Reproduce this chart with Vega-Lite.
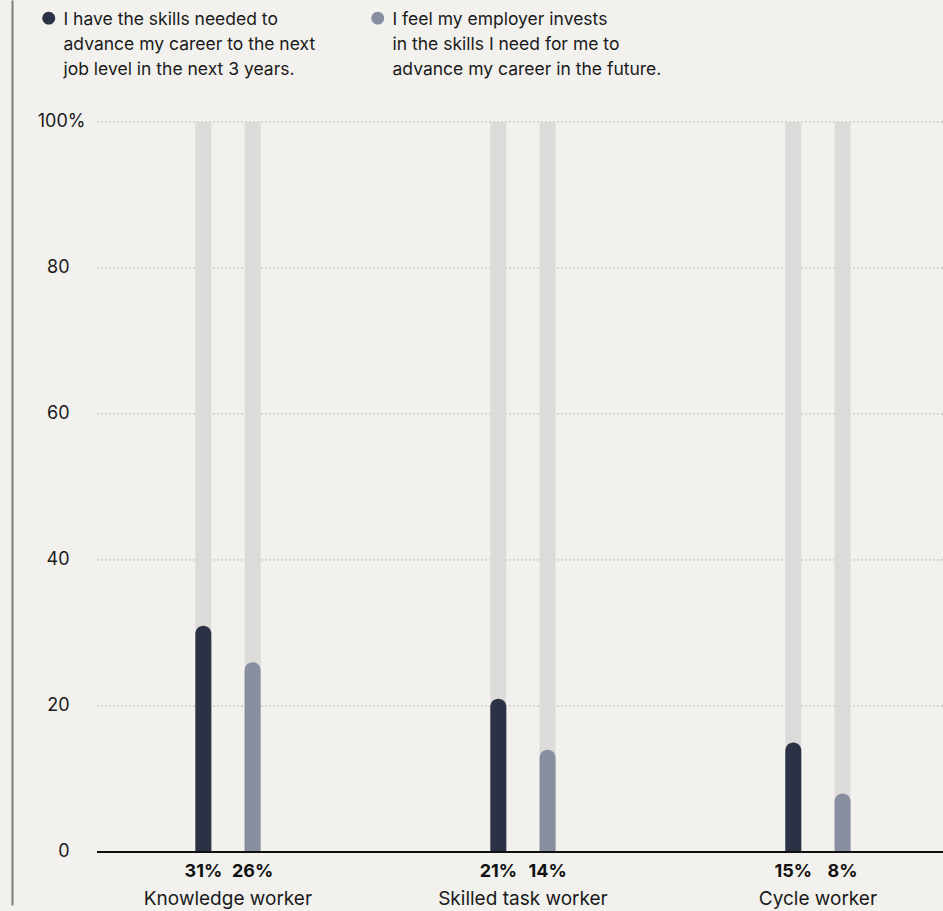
{
  "$schema": "https://vega.github.io/schema/vega-lite/v6.json",
  "width": 846,
  "height": 905,
  "autosize": {"type": "none"},
  "padding": {"left": 97, "top": 0, "right": 0, "bottom": 6},
  "background": "#f2f1ee",
  "config": {
    "view": {"stroke": null},
    "font": "Inter",
    "style": {"guide-label": {"lineHeight": 25}}
  },
  "datasets": {
    "bars": [
      {"group": "Knowledge worker", "series": "I have the skills needed to advance my career to the next job level in the next 3 years.", "value": 31, "label": "31%"},
      {"group": "Knowledge worker", "series": "I feel my employer invests in the skills I need for me to advance my career in the future.", "value": 26, "label": "26%"},
      {"group": "Skilled task worker", "series": "I have the skills needed to advance my career to the next job level in the next 3 years.", "value": 21, "label": "21%"},
      {"group": "Skilled task worker", "series": "I feel my employer invests in the skills I need for me to advance my career in the future.", "value": 14, "label": "14%"},
      {"group": "Cycle worker", "series": "I have the skills needed to advance my career to the next job level in the next 3 years.", "value": 15, "label": "15%"},
      {"group": "Cycle worker", "series": "I feel my employer invests in the skills I need for me to advance my career in the future.", "value": 8, "label": "8%"}
    ],
    "grid": [{"v": 20}, {"v": 40}, {"v": 60}, {"v": 80}, {"v": 100}]
  },
  "layer": [
    {
      "data": {"name": "grid"},
      "mark": {"type": "rule", "color": "#b8b8b8", "strokeWidth": 1, "strokeDash": [2, 2]},
      "encoding": {
        "y": {
          "field": "v",
          "type": "quantitative",
          "scale": {"domain": [-7.26, 116.7], "nice": false, "zero": false},
          "axis": {
            "orient": "left",
            "offset": 85,
            "title": null,
            "values": [0, 20, 40, 60, 80, 100],
            "grid": false,
            "ticks": false,
            "tickSize": 0,
            "domain": true,
            "domainColor": "#7d7d7d",
            "domainWidth": 2,
            "labelAlign": "right",
            "labelBaseline": "middle",
            "labelPadding": {"condition": {"test": "datum.value == 100", "value": -73}, "value": -57},
            "labelFontSize": 18,
            "labelColor": "#1a1a1a",
            "labelExpr": "datum.value == 100 ? '100%' : datum.label"
          }
        }
      }
    },
    {
      "data": {"name": "bars"},
      "mark": {"type": "bar", "width": 16, "color": "#dcdbd9"},
      "encoding": {
        "x": {
          "field": "group",
          "type": "nominal",
          "sort": ["Knowledge worker", "Skilled task worker", "Cycle worker"],
          "scale": {"paddingInner": 0.332, "paddingOuter": 0.1, "align": 0.55},
          "axis": {
            "orient": "bottom",
            "offset": -53,
            "title": null,
            "domain": false,
            "ticks": false,
            "tickSize": 0,
            "labelAngle": 0,
            "labelPadding": 37,
            "labelFontSize": 19,
            "labelColor": "#1a1a1a"
          }
        },
        "xOffset": {
          "field": "series",
          "type": "nominal",
          "sort": ["I have the skills needed to advance my career to the next job level in the next 3 years.", "I feel my employer invests in the skills I need for me to advance my career in the future."],
          "scale": {"paddingInner": 0, "paddingOuter": 1.12}
        },
        "y": {"datum": 100},
        "y2": {"datum": 0}
      }
    },
    {
      "data": {"name": "bars"},
      "mark": {"type": "bar", "width": 16, "cornerRadiusTopLeft": 8, "cornerRadiusTopRight": 8},
      "encoding": {
        "x": {"field": "group", "type": "nominal", "sort": ["Knowledge worker", "Skilled task worker", "Cycle worker"]},
        "xOffset": {
          "field": "series",
          "type": "nominal",
          "sort": ["I have the skills needed to advance my career to the next job level in the next 3 years.", "I feel my employer invests in the skills I need for me to advance my career in the future."]
        },
        "y": {"field": "value", "type": "quantitative"},
        "y2": {"datum": 0},
        "color": {
          "field": "series",
          "type": "nominal",
          "sort": ["I have the skills needed to advance my career to the next job level in the next 3 years.", "I feel my employer invests in the skills I need for me to advance my career in the future."],
          "scale": {"range": ["#2c3245", "#878ea0"]},
          "legend": {
            "orient": "none",
            "legendX": -57,
            "legendY": 2,
            "direction": "horizontal",
            "title": null,
            "symbolType": "M -1 1.1 A 1 1 0 1 1 1 1.1 A 1 1 0 1 1 -1 1.1 Z",
            "symbolSize": 165,
            "symbolStrokeWidth": 0,
            "symbolOpacity": 1,
            "labelOffset": 6,
            "labelFontSize": 17.5,
            "labelColor": "#1a1a1a",
            "labelBaseline": "top",
            "labelLimit": 400,
            "columnPadding": 53,
            "labelExpr": "datum.label == 'I have the skills needed to advance my career to the next job level in the next 3 years.' ? ['I have the skills needed to', 'advance my career to the next', 'job level in the next 3 years.'] : ['I feel my employer invests', 'in the skills I need for me to', 'advance my career in the future.']"
          }
        }
      }
    },
    {
      "data": {"name": "bars"},
      "mark": {"type": "text", "fontSize": 18, "fontWeight": "bold", "color": "#111111", "baseline": "middle", "dy": 20},
      "encoding": {
        "x": {"field": "group", "type": "nominal", "sort": ["Knowledge worker", "Skilled task worker", "Cycle worker"]},
        "xOffset": {
          "field": "series",
          "type": "nominal",
          "sort": ["I have the skills needed to advance my career to the next job level in the next 3 years.", "I feel my employer invests in the skills I need for me to advance my career in the future."]
        },
        "y": {"datum": 0},
        "text": {"field": "label"}
      }
    },
    {
      "data": {"name": "grid"},
      "mark": {"type": "rule", "color": "#111111", "strokeWidth": 1.5},
      "encoding": {"y": {"datum": 0}}
    }
  ]
}
